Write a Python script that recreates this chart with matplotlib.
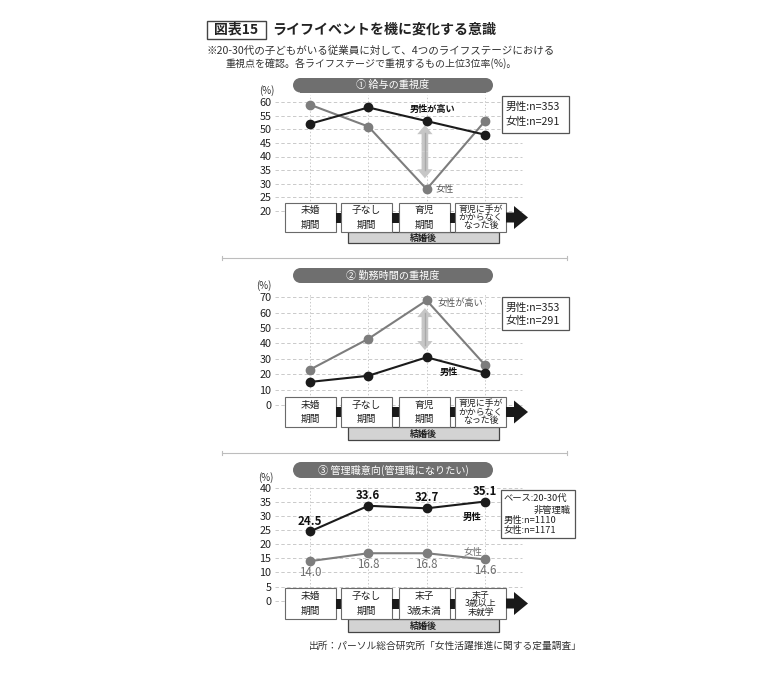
import matplotlib
matplotlib.use('Agg')
import matplotlib.pyplot as plt
from matplotlib.patches import Rectangle, FancyArrowPatch, Polygon

plt.rcParams['font.family'] = ['Noto Sans CJK JP', 'DejaVu Sans']

# ---------------- data ----------------
stages_a = ["未婚\n期間", "子なし\n期間", "育児\n期間", "育児に手が\nかからなく\nなった後"]
stages_b = ["未婚\n期間", "子なし\n期間", "末子\n3歳未満", "末子\n3歳以上\n未就学"]

pay_male = [52, 58, 53, 48]
pay_female = [59, 51, 28, 53]
hours_male = [15, 19, 31, 21]
hours_female = [23, 43, 68, 26]
mgmt_male = [24.5, 33.6, 32.7, 35.1]
mgmt_female = [14.0, 16.8, 16.8, 14.6]

pay_ticks = [20, 25, 30, 35, 40, 45, 50, 55, 60]
hours_ticks = [0, 10, 20, 30, 40, 50, 60, 70]
mgmt_ticks = [0, 5, 10, 15, 20, 25, 30, 35, 40]

panel_titles = ["① 給与の重視度", "② 勤務時間の重視度", "③ 管理職意向(管理職になりたい)"]

# ---------------- layout ----------------
W, H = 780, 675
fig = plt.figure(figsize=(7.8, 6.75), dpi=100)
fig.patch.set_facecolor('white')

AX_X0, AX_X1 = 275, 522
CAT0, CATSTEP = 310, 58.33
XLIM = (-(CAT0 - AX_X0) / CATSTEP, 3 + (AX_X1 - (CAT0 + 3 * CATSTEP)) / CATSTEP)

MALE_C = '#1b1b1b'
FEM_C = '#7d7d7d'
GRID_C = '#cacaca'


def add_px_axes(x0, x1, ytop, ybot, zorder=1):
    return fig.add_axes([x0 / W, 1 - ybot / H, (x1 - x0) / W, (ybot - ytop) / H], zorder=zorder)


def data_axes(v_lo, px_lo, v_hi, px_hi, lim_lo, lim_hi, ticks, vtop):
    s = (px_lo - px_hi) / (v_hi - v_lo)
    top = px_hi - (lim_hi - v_hi) * s
    bot = px_lo + (v_lo - lim_lo) * s
    ax = add_px_axes(AX_X0, AX_X1, top, bot)
    ax.set_xlim(XLIM)
    ax.set_ylim(lim_lo, lim_hi)
    ax.patch.set_visible(False)
    for sp in ax.spines.values():
        sp.set_visible(False)
    ax.set_xticks([])
    ax.set_yticks(ticks)
    ax.set_yticklabels([str(t) for t in ticks])
    ax.tick_params(axis='y', length=0, pad=2.5, labelsize=7.8, labelcolor='#222222')
    for t in ticks:
        ax.plot(XLIM, [t, t], color=GRID_C, lw=0.7, ls=(0, (3.5, 2.5)), zorder=0, clip_on=False)
    ax.vlines(range(4), ticks[0], vtop, color=GRID_C, lw=0.7, ls=(0, (1.5, 2)), zorder=0)
    return ax


def plot_series(ax, vals, color, z):
    ax.plot(range(4), vals, color=color, lw=1.5, marker='o', ms=6, mfc=color, mec=color,
            zorder=z, clip_on=False)


def double_arrow(ax, x, y_a, y_b):
    mid = (y_a + y_b) / 2
    for end in (y_a, y_b):
        ax.add_patch(FancyArrowPatch((x, mid), (x, end),
                                     arrowstyle='simple,head_length=6.5,head_width=11,tail_width=4.8',
                                     mutation_scale=1, fc='#c6c6c6', ec='none',
                                     shrinkA=0, shrinkB=0, clip_on=False, zorder=2))
    ax.plot([x, x], [min(y_a, y_b) + 3, max(y_a, y_b) - 3], color='#a9a9a9', lw=1.0,
            zorder=2.1, clip_on=False)


# Panel 1
ax1 = data_axes(20, 211, 60, 102, 18, 63, pay_ticks, 62.5)
double_arrow(ax1, 1.97, pay_male[2] - 1.5, pay_female[2] + 4)
plot_series(ax1, pay_female, FEM_C, 3)
plot_series(ax1, pay_male, MALE_C, 4)
ax1.text(2.1, pay_male[2] + 4.3, "男性が高い", ha='center', va='center', fontsize=6.6,
         fontweight='bold', color='#111111')
ax1.text(2.16, pay_female[2], "女性", ha='left', va='center', fontsize=6.6, color='#555555')

# Panel 2
ax2 = data_axes(0, 405, 70, 297.3, -3, 73, hours_ticks, 72)
double_arrow(ax2, 1.97, hours_female[2] - 5, hours_male[2] + 4.7)
plot_series(ax2, hours_female, FEM_C, 3)
plot_series(ax2, hours_male, MALE_C, 4)
ax2.text(2.19, hours_female[2] - 1.8, "女性が高い", ha='left', va='center', fontsize=6.6,
         color='#555555')
ax2.text(2.23, hours_male[3], "男性", ha='left', va='center', fontsize=6.6,
         fontweight='bold', color='#111111')

# Panel 3
ax3 = data_axes(0, 600.7, 40, 487.7, -2, 42, mgmt_ticks, 41)
plot_series(ax3, mgmt_female, FEM_C, 3)
plot_series(ax3, mgmt_male, MALE_C, 4)
for i, v in enumerate(mgmt_male):
    ax3.annotate(f"{v:.1f}", (i, v), xytext=(0, 7.5), textcoords='offset points',
                 ha='center', va='center', fontsize=8.3, fontweight='bold', color='#111111')
for i, v in enumerate(mgmt_female):
    ax3.annotate(f"{v:.1f}", (i, v), xytext=(0, -8), textcoords='offset points',
                 ha='center', va='center', fontsize=8.3, color='#6e6e6e')
ax3.text(2.79, 29.7, "男性", ha='center', va='center', fontsize=6.8, fontweight='bold',
         color='#111111')
ax3.text(2.79, 17.1, "女性", ha='center', va='center', fontsize=6.8, color='#6e6e6e')

# ---------------- overlay (pixel coordinates) ----------------
ov = fig.add_axes([0, 0, 1, 1], zorder=10)
ov.set_xlim(0, W)
ov.set_ylim(H, 0)
ov.axis('off')
ov.patch.set_visible(False)

# title
ov.add_patch(Rectangle((207, 21), 59, 18, fill=False, ec='#444444', lw=1.0))
ov.text(236.5, 30, "図表15", ha='center', va='center', fontsize=10, fontweight='bold', color='#222222')
ov.text(272, 30, "ライフイベントを機に変化する意識", ha='left', va='center', fontsize=10.1,
        fontweight='bold', color='#222222')
ov.text(207, 50.5, "※20-30代の子どもがいる従業員に対して、4つのライフステージにおける",
        ha='left', va='center', fontsize=7.6, color='#333333')
ov.text(225, 63.5, "重視点を確認。各ライフステージで重視するもの上位3位率(%)。",
        ha='left', va='center', fontsize=7.2, color='#333333')

box_lefts = [285, 341, 399, 455]
box_w = 51


def stage_row(box_top, box_h, labels, bar_bottom):
    cy = box_top + box_h / 2
    for i, (x0, lab) in enumerate(zip(box_lefts, labels)):
        ov.add_patch(Rectangle((x0, box_top), box_w, box_h, fc='white', ec='#6a6a6a', lw=0.8))
        nlines = lab.count("\n") + 1
        if nlines == 2:
            ov.text(x0 + box_w / 2, cy, lab, ha='center', va='center', fontsize=7,
                    linespacing=1.55, color='#222222')
        else:
            ov.text(x0 + box_w / 2, cy, lab, ha='center', va='center', fontsize=6.4,
                    linespacing=0.92, color='#222222')
        if i < 3:
            gx0 = x0 + box_w
            gx1 = box_lefts[i + 1]
            ov.add_patch(Rectangle((gx0, cy - 5), gx1 - gx0, 10, fc='#1a1a1a', ec='none'))
    ax0 = box_lefts[3] + box_w
    ov.add_patch(Polygon([(ax0, cy - 5), (ax0 + 8, cy - 5), (ax0 + 8, cy - 11.5),
                          (ax0 + 22, cy), (ax0 + 8, cy + 11.5), (ax0 + 8, cy + 5),
                          (ax0, cy + 5)], closed=True, fc='#1a1a1a', ec='none'))
    bt = box_top + box_h
    ov.add_patch(Rectangle((348, bt), 151, bar_bottom - bt, fc='#d3d3d3', ec='#444444', lw=0.9,
                           zorder=0.5))
    ov.text(423.5, (bt + bar_bottom) / 2 + 0.5, "結婚後", ha='center', va='center', fontsize=6.5,
            fontweight='bold', color='#222222')


def pill(ytop, ybot, text):
    h = ybot - ytop
    ov.add_patch(Rectangle((293 + h / 2, ytop), 200 - h, h, fc='#6f6f6f', ec='none'))
    ov.add_patch(plt.Circle((293 + h / 2, ytop + h / 2), h / 2, fc='#6f6f6f', ec='none'))
    ov.add_patch(plt.Circle((493 - h / 2, ytop + h / 2), h / 2, fc='#6f6f6f', ec='none'))
    ov.text(393, ytop + h / 2, text, ha='center', va='center', fontsize=7.3, color='white')


def legend_box(x0, y0, x1, y1, lines):
    ov.add_patch(Rectangle((x0, y0), x1 - x0, y1 - y0, fc='white', ec='#555555', lw=0.9))
    for (tx, ty, t, ha) in lines:
        ov.text(tx, ty, t, ha=ha, va='center', fontsize=7.7, color='#222222')


# panel 1 decorations
pill(78, 92.5, panel_titles[0])
ov.text(267, 91, "(%)", ha='center', va='center', fontsize=7, color='#333333')
stage_row(203, 29, stages_a, 243)
legend_box(502, 96, 569, 133, [(506, 107, "男性:n=353", 'left'), (506, 122, "女性:n=291", 'left')])

# separators
for ysep in (257.5, 452.5):
    ov.plot([222, 567], [ysep, ysep], color='#bdbdbd', lw=0.8)
    ov.plot([222, 222], [ysep - 2, ysep + 2], color='#bdbdbd', lw=0.8)
    ov.plot([567, 567], [ysep - 2, ysep + 2], color='#bdbdbd', lw=0.8)

# panel 2 decorations
pill(268, 283, panel_titles[1])
ov.text(264, 286, "(%)", ha='center', va='center', fontsize=7, color='#333333')
stage_row(397, 30, stages_a, 440)
legend_box(502, 297, 569, 330, [(506, 307.5, "男性:n=353", 'left'), (506, 321, "女性:n=291", 'left')])

# panel 3 decorations
pill(462, 478, panel_titles[2])
ov.text(266, 478, "(%)", ha='center', va='center', fontsize=7, color='#333333')
stage_row(588, 31, stages_b, 632)
ov.add_patch(Rectangle((501, 490), 74, 48, fc='white', ec='#555555', lw=0.9))
ov.text(504, 498.5, "ベース:20-30代", ha='left', va='center', fontsize=6.7, color='#222222')
ov.text(571, 510, "非管理職", ha='right', va='center', fontsize=6.7, color='#222222')
ov.text(504, 520.5, "男性:n=1110", ha='left', va='center', fontsize=6.7, color='#222222')
ov.text(504, 531, "女性:n=1171", ha='left', va='center', fontsize=6.7, color='#222222')

# footer
ov.text(582, 646, "出所：パーソル総合研究所「女性活躍推進に関する定量調査」", ha='right', va='center',
        fontsize=7, color='#333333')

fig.savefig('out.png', dpi=100, facecolor='white')
